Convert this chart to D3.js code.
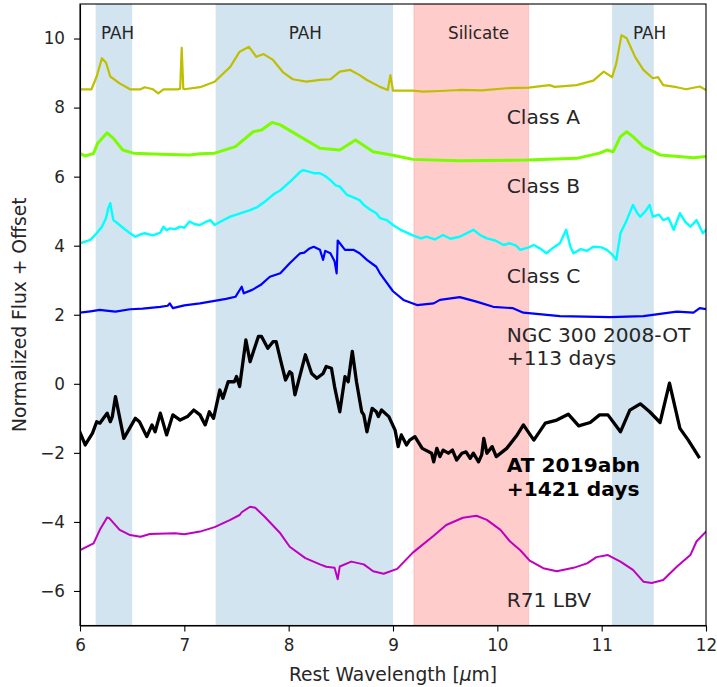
<!DOCTYPE html>
<html><head><meta charset="utf-8">
<script src="https://cdn.jsdelivr.net/npm/d3@7"></script>
<style>body{margin:0;background:#fff} text{font-family:"DejaVu Sans",sans-serif;}</style>
</head><body><svg id="c" width="717" height="687"></svg>
<script>
// ---------- data (wavelength [µm], normalized flux + offset) ----------
const classA = [[6.00,8.53],[6.11,8.53],[6.16,8.90],[6.21,9.43],[6.25,9.30],[6.29,8.90],[6.38,8.70],[6.48,8.53],[6.58,8.53],[6.62,8.59],[6.70,8.53],[6.75,8.41],[6.80,8.53],[6.94,8.53],[6.96,8.55],[6.975,9.73],[6.99,8.55],[7.00,8.53],[7.15,8.59],[7.29,8.75],[7.44,9.18],[7.53,9.62],[7.62,9.76],[7.69,9.47],[7.76,9.55],[7.85,9.38],[7.95,9.01],[8.04,8.82],[8.17,8.75],[8.30,8.80],[8.40,8.82],[8.49,9.04],[8.59,9.09],[8.68,8.94],[8.75,8.80],[8.875,8.60],[8.95,8.51],[8.975,8.94],[9.00,8.49],[9.19,8.49],[9.29,8.46],[9.45,8.48],[9.64,8.51],[9.85,8.50],[10.09,8.56],[10.30,8.58],[10.50,8.65],[10.55,8.60],[10.76,8.65],[10.92,8.78],[11.02,9.04],[11.10,8.88],[11.14,9.28],[11.19,10.10],[11.24,10.01],[11.32,9.47],[11.40,9.09],[11.49,8.85],[11.54,8.88],[11.59,8.65],[11.72,8.59],[11.81,8.53],[11.94,8.61],[12.00,8.51]];
const classB = [[6.00,6.67],[6.05,6.60],[6.13,6.67],[6.17,6.97],[6.26,7.27],[6.32,7.11],[6.41,6.77],[6.51,6.68],[6.77,6.65],[7.05,6.63],[7.15,6.66],[7.29,6.68],[7.49,6.87],[7.66,7.30],[7.74,7.35],[7.84,7.57],[7.92,7.50],[8.11,7.16],[8.30,6.82],[8.49,6.77],[8.64,7.06],[8.81,6.72],[9.00,6.62],[9.19,6.50],[9.64,6.46],[10.28,6.48],[10.76,6.53],[10.98,6.68],[11.05,6.77],[11.11,6.72],[11.18,7.16],[11.24,7.30],[11.30,7.16],[11.40,6.87],[11.56,6.63],[11.88,6.55],[12.00,6.58]];
const classC = [[6.00,4.07],[6.05,4.12],[6.10,4.17],[6.16,4.36],[6.21,4.55],[6.25,4.80],[6.27,5.08],[6.29,5.23],[6.31,4.90],[6.32,4.74],[6.36,4.65],[6.40,4.55],[6.44,4.45],[6.48,4.36],[6.53,4.26],[6.58,4.33],[6.62,4.36],[6.70,4.30],[6.77,4.38],[6.80,4.55],[6.83,4.45],[6.86,4.50],[6.91,4.48],[6.96,4.55],[7.00,4.52],[7.05,4.70],[7.10,4.62],[7.15,4.60],[7.20,4.68],[7.25,4.74],[7.29,4.60],[7.35,4.70],[7.44,4.84],[7.50,4.90],[7.55,4.95],[7.63,5.03],[7.70,5.12],[7.77,5.27],[7.82,5.40],[7.87,5.52],[7.92,5.60],[7.96,5.71],[8.03,5.90],[8.11,6.14],[8.14,6.19],[8.20,6.14],[8.24,6.10],[8.30,6.10],[8.35,6.02],[8.40,5.90],[8.45,5.75],[8.49,5.71],[8.56,5.47],[8.62,5.40],[8.68,5.32],[8.72,5.18],[8.78,5.05],[8.84,4.94],[8.875,4.80],[8.94,4.74],[9.00,4.60],[9.08,4.45],[9.19,4.30],[9.27,4.21],[9.32,4.26],[9.40,4.18],[9.48,4.31],[9.55,4.20],[9.64,4.26],[9.70,4.35],[9.77,4.46],[9.84,4.30],[9.90,4.21],[9.98,4.15],[10.06,4.02],[10.12,4.07],[10.18,4.00],[10.22,3.88],[10.30,3.95],[10.35,4.02],[10.42,3.90],[10.47,3.78],[10.54,3.95],[10.60,4.07],[10.66,4.46],[10.70,3.97],[10.73,3.78],[10.80,3.90],[10.86,3.85],[10.92,3.97],[11.00,3.95],[11.05,3.88],[11.10,3.75],[11.14,3.59],[11.18,4.36],[11.24,4.74],[11.30,5.18],[11.34,4.95],[11.37,4.84],[11.42,5.00],[11.46,5.18],[11.49,4.84],[11.55,4.90],[11.59,4.74],[11.64,4.80],[11.69,4.46],[11.75,4.94],[11.80,4.70],[11.85,4.55],[11.91,4.74],[11.97,4.36],[12.00,4.46]];
const ngc300 = [[6.00,2.06],[6.10,2.10],[6.19,2.14],[6.25,2.12],[6.34,2.09],[6.48,2.16],[6.60,2.18],[6.77,2.23],[6.84,2.26],[6.86,2.33],[6.89,2.19],[7.00,2.27],[7.15,2.33],[7.29,2.40],[7.40,2.46],[7.49,2.52],[7.55,2.81],[7.57,2.62],[7.65,2.72],[7.73,2.86],[7.82,3.10],[7.92,3.20],[8.01,3.49],[8.11,3.78],[8.15,3.80],[8.20,3.92],[8.24,3.97],[8.30,3.88],[8.33,3.59],[8.35,3.85],[8.40,3.78],[8.44,3.55],[8.46,3.20],[8.47,4.15],[8.54,3.88],[8.62,3.88],[8.68,3.78],[8.75,3.59],[8.84,3.39],[8.875,3.20],[9.00,2.68],[9.10,2.43],[9.23,2.28],[9.39,2.33],[9.45,2.43],[9.64,2.51],[9.80,2.38],[9.96,2.23],[10.15,2.19],[10.25,2.06],[10.60,1.96],[11.08,1.93],[11.40,1.96],[11.72,2.09],[11.88,2.06],[11.94,2.19],[12.00,2.16]];
const at2019abn = [[6.00,-1.41],[6.05,-1.77],[6.12,-1.43],[6.16,-1.10],[6.19,-1.14],[6.26,-0.85],[6.29,-1.10],[6.31,-0.95],[6.34,-0.37],[6.42,-1.58],[6.53,-1.00],[6.57,-1.10],[6.64,-1.53],[6.69,-1.19],[6.72,-1.39],[6.77,-0.85],[6.83,-1.48],[6.89,-0.90],[6.96,-1.05],[7.03,-0.95],[7.09,-0.76],[7.15,-0.90],[7.20,-1.19],[7.24,-0.81],[7.28,-1.00],[7.34,-0.18],[7.37,-0.42],[7.42,0.06],[7.48,0.06],[7.50,0.21],[7.53,-0.08],[7.59,1.27],[7.63,0.64],[7.71,1.37],[7.74,1.37],[7.80,1.03],[7.85,1.22],[7.88,1.22],[7.93,0.59],[7.97,0.11],[8.01,0.35],[8.03,0.30],[8.06,-0.32],[8.16,0.84],[8.22,0.30],[8.27,0.16],[8.33,0.30],[8.36,0.50],[8.41,0.45],[8.44,-0.08],[8.49,-0.81],[8.54,0.21],[8.57,0.06],[8.61,0.94],[8.65,0.06],[8.70,-0.81],[8.72,-0.90],[8.75,-1.39],[8.80,-0.71],[8.84,-0.81],[8.86,-0.95],[8.89,-0.76],[8.96,-0.95],[9.02,-1.34],[9.05,-1.82],[9.08,-1.48],[9.13,-1.77],[9.16,-1.63],[9.21,-1.53],[9.28,-1.87],[9.37,-2.01],[9.39,-2.26],[9.42,-1.87],[9.45,-2.11],[9.48,-1.92],[9.53,-2.01],[9.57,-1.92],[9.61,-2.21],[9.66,-2.01],[9.70,-1.97],[9.74,-2.16],[9.77,-2.01],[9.82,-2.26],[9.85,-2.06],[9.87,-1.58],[9.90,-2.01],[9.95,-1.82],[9.99,-2.11],[10.09,-1.87],[10.19,-1.48],[10.25,-1.19],[10.35,-1.63],[10.46,-1.14],[10.57,-1.05],[10.68,-0.88],[10.78,-1.22],[10.89,-1.12],[10.98,-0.90],[11.06,-0.90],[11.18,-1.39],[11.27,-0.76],[11.37,-0.58],[11.46,-0.81],[11.56,-1.12],[11.65,0.02],[11.75,-1.29],[11.83,-1.63],[11.93,-2.11]];
const r71 = [[6.00,-4.82],[6.13,-4.62],[6.19,-4.23],[6.26,-3.87],[6.28,-3.89],[6.38,-4.23],[6.48,-4.38],[6.58,-4.43],[6.67,-4.35],[6.91,-4.33],[7.00,-4.36],[7.15,-4.28],[7.29,-4.15],[7.44,-3.94],[7.53,-3.80],[7.55,-3.72],[7.63,-3.56],[7.68,-3.59],[7.77,-3.85],[7.92,-4.33],[8.01,-4.72],[8.16,-5.05],[8.30,-5.23],[8.36,-5.30],[8.44,-5.33],[8.47,-5.66],[8.49,-5.29],[8.60,-5.15],[8.72,-5.23],[8.81,-5.43],[8.91,-5.50],[9.04,-5.36],[9.19,-4.89],[9.39,-4.40],[9.51,-4.09],[9.67,-3.88],[9.80,-3.82],[9.90,-3.94],[10.03,-4.23],[10.12,-4.56],[10.22,-4.82],[10.31,-5.12],[10.44,-5.34],[10.57,-5.43],[10.73,-5.33],[10.86,-5.20],[10.95,-5.02],[11.06,-4.96],[11.18,-5.15],[11.30,-5.39],[11.40,-5.73],[11.48,-5.77],[11.59,-5.68],[11.72,-5.30],[11.85,-4.96],[11.91,-4.56],[12.00,-4.28]];

const seriesNames = ["Class A","Class B","Class C","NGC 300 2008-OT","AT 2019abn","R71 LBV"];
const seriesData = [classA, classB, classC, ngc300, at2019abn, r71];

// shaded bands [start, end] in µm
const bandNames = ["PAH","PAH","Silicate","PAH"];
const bandStart = [6.15, 7.3, 9.2, 11.1];
const bandEnd   = [6.5, 9.0, 10.3, 11.5];
const bandLabelX = [6.36, 8.16, 9.82, 11.46];
const bandLabelY = 10.0;

// series labels (data coords of first baseline)
const labelLines = [["Class A"],["Class B"],["Class C"],["NGC 300 2008-OT","+113 days"],["AT 2019abn","+1421 days"],["R71 LBV"]];
const labelX = 10.09;
const labelY = [7.525, 5.535, 2.928, 1.22, -2.562, -6.47];

const xTicks = [6,7,8,9,10,11,12];
const yTicks = [-6,-4,-2,0,2,4,6,8,10];
const xDomain = [6,12], yDomain = [-7,11];

// ---------- drawing ----------
const W = 717, H = 687;
const m = {left:80, right:11, top:4, bottom:61.5};
const svg = d3.select("#c");
svg.append("rect").attr("width",W).attr("height",H).attr("fill","#fff");
const x = d3.scaleLinear().domain(xDomain).range([m.left, W - m.right]);
const y = d3.scaleLinear().domain(yDomain).range([H - m.bottom, m.top]);

const colors = ["#bfbf00","#7cfc00","#00ffff","#0000ff","#000000","#bf00bf"];
const widths = [2.2, 3, 2.4, 2.2, 3.3, 2];

svg.append("clipPath").attr("id","clip").append("rect")
  .attr("x",x(6)).attr("y",y(11)).attr("width",x(12)-x(6)).attr("height",y(-7)-y(11));

const bands = svg.append("g");
bandStart.forEach((s,i)=>{
  const isSil = bandNames[i]==="Silicate";
  bands.append("rect")
    .attr("x",x(s)).attr("y",y(11)).attr("width",x(bandEnd[i])-x(s)).attr("height",y(-7)-y(11))
    .attr("fill", isSil ? "#ff0000" : "#1f77b4").attr("fill-opacity",0.2)
    .attr("stroke", isSil ? "#ff0000" : "#1f77b4").attr("stroke-opacity", isSil?0.15:0.0).attr("stroke-width",1);
  svg.append("text").attr("x",x(bandLabelX[i])).attr("y",y(bandLabelY))
    .attr("text-anchor","middle").attr("font-size","16.8px").attr("fill","#262626").text(bandNames[i]);
});

const line = d3.line().x(d=>x(d[0])).y(d=>y(d[1]));
const lg = svg.append("g").attr("clip-path","url(#clip)");
seriesData.forEach((s,i)=>{
  lg.append("path").datum(s).attr("d",line).attr("fill","none")
    .attr("stroke",colors[i]).attr("stroke-width",widths[i])
    .attr("stroke-linejoin","round").attr("stroke-linecap","square");
});

labelLines.forEach((lines,i)=>{
  const t = svg.append("text").attr("x",x(labelX)).attr("y",y(labelY[i]))
    .attr("font-size","20.2px").attr("fill", i===4 ? "#000" : "#262626")
    .attr("font-weight", i===4 ? "bold" : "normal");
  lines.forEach((l,j)=>{
    t.append("tspan").attr("x",x(labelX)).attr("dy", j===0 ? 0 : "1.17em").text(l);
  });
});

// frame
svg.append("rect").attr("x",x(6)).attr("y",y(11)).attr("width",x(12)-x(6)).attr("height",y(-7)-y(11))
  .attr("fill","none").attr("stroke","#000").attr("stroke-width",1.1);

const xAxis = svg.append("g").attr("transform",`translate(0,${y(-7)})`)
  .call(d3.axisBottom(x).tickValues(xTicks).tickFormat(d3.format("d")).tickSize(6).tickPadding(8).tickSizeOuter(0));
const yAxis = svg.append("g").attr("transform",`translate(${x(6)},0)`)
  .call(d3.axisLeft(y).tickValues(yTicks).tickFormat(d3.format("d")).tickSize(6).tickPadding(9).tickSizeOuter(0));
[xAxis,yAxis].forEach(a=>{
  a.select(".domain").attr("stroke","#000").attr("stroke-width",1.1);
  a.selectAll(".tick line").attr("stroke","#000").attr("stroke-width",1.1);
  a.selectAll(".tick text").attr("font-family","DejaVu Sans").attr("font-size","16.8px").attr("fill","#262626");
});

const xl = svg.append("text").attr("x",(x(6)+x(12))/2).attr("y",681)
  .attr("text-anchor","middle").attr("font-size","18.7px").attr("fill","#262626");
xl.append("tspan").text("Rest Wavelength [");
xl.append("tspan").attr("font-style","italic").text("\u03bc");
xl.append("tspan").text("m]");

svg.append("text").attr("transform",`translate(26,${(y(-7)+y(11))/2}) rotate(-90)`)
  .attr("text-anchor","middle").attr("font-size","18.7px").attr("fill","#262626")
  .text("Normalized Flux + Offset");
</script></body></html>
